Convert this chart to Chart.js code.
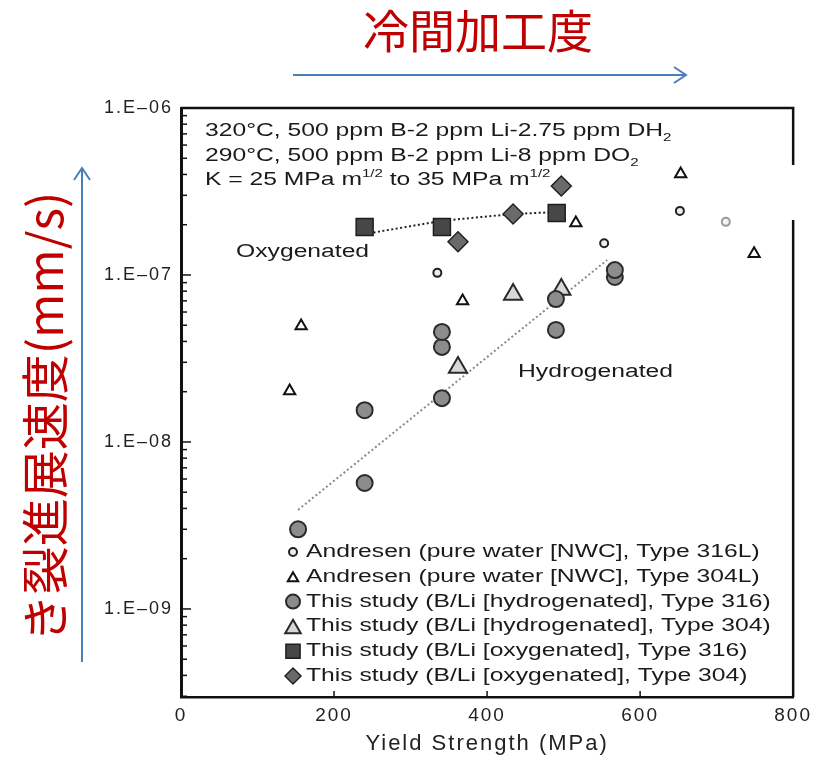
<!DOCTYPE html>
<html>
<head>
<meta charset="utf-8">
<script src="https://cdn.jsdelivr.net/npm/chart.js@4.4.1/dist/chart.umd.min.js"></script>
<style>
  html, body { margin: 0; padding: 0; background: #fff; }
</style>
</head>
<body>
<canvas id="scc" width="816" height="758"></canvas>
<script>
// yield strength (MPa) vs crack growth rate (mm/s)
const andresen316L = [[335, 1.03e-7], [553, 1.55e-7], [652, 2.42e-7], [712, 2.08e-7]];
const andresen304L = [[142, 2.02e-8], [157, 4.95e-8], [368, 6.99e-8], [516, 2.05e-7], [653, 4.03e-7], [749, 1.34e-7]];
const hydro316 = [[153, 3.0e-9], [240, 5.68e-9], [240, 1.55e-8], [341, 1.83e-8], [341, 3.71e-8], [341, 4.56e-8],
                  [490, 4.69e-8], [490, 7.18e-8], [567, 9.73e-8], [567, 1.07e-7]];
const hydro304 = [[362, 2.79e-8], [434, 7.65e-8], [497, 8.2e-8]];
const oxy316 = [[240, 1.94e-7], [341, 1.94e-7], [491, 2.35e-7]];
const oxy304 = [[362, 1.58e-7], [434, 2.32e-7], [497, 3.41e-7]];
const oxyTrend = [[240, 1.76e-7], [341, 2.11e-7], [434, 2.32e-7], [491, 2.38e-7]];
const hydroTrend = [[153, 3.92e-9], [557, 1.23e-7]];

const legendLabels = [
  'Andresen (pure water [NWC], Type 316L)',
  'Andresen (pure water [NWC], Type 304L)',
  'This study (B/Li [hydrogenated], Type 316)',
  'This study (B/Li [hydrogenated], Type 304)',
  'This study (B/Li [oxygenated], Type 316)',
  'This study (B/Li [oxygenated], Type 304)'
];
const xTickValues = [0, 200, 400, 600, 800];
const yMin = 2.97e-10, yMax = 1e-6;

const pts = arr => arr.map(p => ({x: p[0], y: p[1]}));
const stretch = 1.37;

function wideText(ctx, str, x, y) {
  const w = ctx.measureText(str).width;
  ctx.save();
  ctx.translate(x, y);
  ctx.scale(stretch, 1);
  ctx.fillText(str, 0, 0);
  ctx.restore();
  return w * stretch;
}

function richLine(ctx, parts, x, y) {
  let cx = x;
  parts.forEach(p => {
    const size = p.s ? 11 : 18;
    const dy = p.s === 'sub' ? 7 : p.s === 'sup' ? -6 : 0;
    ctx.font = size + 'px "Liberation Sans"';
    cx += wideText(ctx, p.t, cx, y + dy);
  });
}

function marker(ctx, ds, x, y, r) {
  ctx.fillStyle = ds.pointBackgroundColor instanceof Array ? ds.pointBackgroundColor[0] : ds.pointBackgroundColor;
  ctx.strokeStyle = ds.pointBorderColor instanceof Array ? ds.pointBorderColor[0] : ds.pointBorderColor;
  ctx.lineWidth = ds.pointBorderWidth;
  const style = ds.pointStyle;
  if (style === 'triangle') y += r / 4;
  Chart.helpers.drawPoint(ctx, {pointStyle: style, radius: r, rotation: 0, borderWidth: ds.pointBorderWidth}, x, y);
}

const decor = {
  id: 'decor',
  beforeDraw(chart) {
    chart.ctx.letterSpacing = '2px';
  },
  afterDraw(chart) {
    const ctx = chart.ctx;
    const {left, right, top, bottom} = chart.chartArea;
    const xs = chart.scales.x, ys = chart.scales.y;
    ctx.save();
    ctx.letterSpacing = '0px';

    // top and right frame (right edge partly washed out in the scan)
    ctx.strokeStyle = '#111';
    ctx.lineWidth = 2.5;
    ctx.beginPath();
    ctx.moveTo(left, top);
    ctx.lineTo(right, top);
    ctx.lineTo(right, top + 57);
    ctx.moveTo(right, top + 112);
    ctx.lineTo(right, bottom);
    ctx.stroke();

    // inward tick marks
    ctx.lineWidth = 1.5;
    for (let e = -10; e <= -6; e++) {
      for (let k = 1; k <= 9; k++) {
        const v = k * Math.pow(10, e);
        if (v < yMin || v > yMax) continue;
        const py = ys.getPixelForValue(v);
        ctx.beginPath();
        ctx.moveTo(left, py);
        ctx.lineTo(left + (k === 1 ? 10 : 6), py);
        ctx.stroke();
      }
    }
    xTickValues.slice(1, -1).forEach(v => {
      const px = xs.getPixelForValue(v);
      ctx.beginPath();
      ctx.moveTo(px, bottom);
      ctx.lineTo(px, bottom - 6);
      ctx.stroke();
    });

    // condition text
    ctx.fillStyle = '#1a1a1a';
    ctx.textBaseline = 'middle';
    ctx.textAlign = 'left';
    richLine(ctx, [{t: '320°C, 500 ppm B-2 ppm Li-2.75 ppm DH'}, {t: '2', s: 'sub'}], 205, 131);
    richLine(ctx, [{t: '290°C, 500 ppm B-2 ppm Li-8 ppm DO'}, {t: '2', s: 'sub'}], 205, 156);
    richLine(ctx, [{t: 'K = 25 MPa m'}, {t: '1/2', s: 'sup'}, {t: ' to 35 MPa m'}, {t: '1/2', s: 'sup'}], 205, 180);

    ctx.font = '18px "Liberation Sans"';
    wideText(ctx, 'Oxygenated', xs.getPixelForValue(72), ys.getPixelForValue(1.37e-7));
    wideText(ctx, 'Hydrogenated', xs.getPixelForValue(440.5), ys.getPixelForValue(2.62e-8));

    // legend
    const legendR = [4, 6, 7, 9, 10, 8];
    legendLabels.forEach((lab, i) => {
      const y = 552 + i * 24.8;
      marker(ctx, chart.data.datasets[i], 293, y, legendR[i]);
      ctx.fillStyle = '#1a1a1a';
      ctx.font = '18px "Liberation Sans"';
      wideText(ctx, lab, 306, y);
    });

    // Japanese annotations with arrows
    ctx.fillStyle = '#c00000';
    ctx.font = '46px "Noto Sans CJK JP"';
    ctx.textAlign = 'center';
    ctx.fillText('冷間加工度', 478, 31);
    ctx.save();
    ctx.translate(45, 417);
    ctx.rotate(-Math.PI / 2);
    ctx.font = '48px "Noto Sans CJK JP"';
    ctx.fillText('き裂進展速度(mm/s)', 0, 0);
    ctx.restore();

    ctx.strokeStyle = '#4a7ebb';
    ctx.lineWidth = 2;
    ctx.beginPath();
    ctx.moveTo(293, 75); ctx.lineTo(686, 75);
    ctx.moveTo(674, 67); ctx.lineTo(686, 75); ctx.lineTo(674, 83);
    ctx.moveTo(82, 662); ctx.lineTo(82, 168);
    ctx.moveTo(74, 180); ctx.lineTo(82, 168); ctx.lineTo(90, 180);
    ctx.stroke();
    ctx.restore();
  }
};

new Chart(document.getElementById('scc'), {
  type: 'scatter',
  data: {
    datasets: [
      {data: pts(andresen316L), pointStyle: 'circle', pointRadius: 4, pointBorderWidth: 2,
       pointBackgroundColor: ['#ececec', '#ececec', '#ececec', '#f2f2f2'],
       pointBorderColor: ['#222', '#222', '#222', '#9a9a9a'], order: 0},
      {data: pts(andresen304L), pointStyle: 'triangle', pointRadius: 6.5, pointBorderWidth: 2,
       pointBackgroundColor: '#ffffff', pointBorderColor: '#111', order: 0},
      {data: pts(hydro316), pointStyle: 'circle', pointRadius: 8, pointBorderWidth: 2,
       pointBackgroundColor: '#8c8c8c', pointBorderColor: '#2a2a2a', order: 0},
      {data: pts(hydro304), pointStyle: 'triangle', pointRadius: 10.5, pointBorderWidth: 2,
       pointBackgroundColor: '#d8d8d8', pointBorderColor: '#2a2a2a', order: 0},
      {data: pts(oxy316), pointStyle: 'rect', pointRadius: 12, pointBorderWidth: 1.5,
       pointBackgroundColor: '#474747', pointBorderColor: '#1e1e1e', order: 0},
      {data: pts(oxy304), pointStyle: 'rectRot', pointRadius: 10, pointBorderWidth: 1.5,
       pointBackgroundColor: '#6a6a6a', pointBorderColor: '#222', order: 0},
      {data: pts(oxyTrend), showLine: true, pointRadius: 0, borderColor: '#222',
       borderWidth: 2, borderDash: [2, 2.5], order: 5},
      {data: pts(hydroTrend), showLine: true, pointRadius: 0, borderColor: '#8a8a8a',
       borderWidth: 2, borderDash: [2, 2.5], order: 5}
    ]
  },
  options: {
    responsive: false,
    animation: false,
    events: [],
    layout: {padding: {top: 108, right: 22, left: 0, bottom: 0}},
    plugins: {legend: {display: false}, tooltip: {enabled: false}},
    scales: {
      x: {
        type: 'linear', min: 0, max: 800,
        afterBuildTicks: s => { s.ticks = xTickValues.map(v => ({value: v})); },
        grid: {display: false, drawTicks: false},
        border: {display: true, color: '#111', width: 2.5},
        ticks: {padding: 7, color: '#222', font: {family: 'Liberation Sans', size: 19}},
        title: {display: true, text: 'Yield Strength (MPa)', color: '#222',
                font: {family: 'Liberation Sans', size: 22}, padding: {top: 0, bottom: 1}},
        afterFit: s => { s.height = 61; }
      },
      y: {
        type: 'logarithmic', min: yMin, max: yMax,
        grid: {display: false, drawTicks: false},
        border: {display: true, color: '#111', width: 3},
        ticks: {
          autoSkip: false, padding: 8, color: '#222',
          font: {family: 'Liberation Sans', size: 18},
          callback: v => {
            const e = Math.log10(v);
            return Math.abs(e - Math.round(e)) < 1e-6 ? '1.E–0' + (-Math.round(e)) : '';
          }
        },
        afterFit: s => { s.width = 181; }
      }
    }
  },
  plugins: [decor]
});
</script>
</body>
</html>
